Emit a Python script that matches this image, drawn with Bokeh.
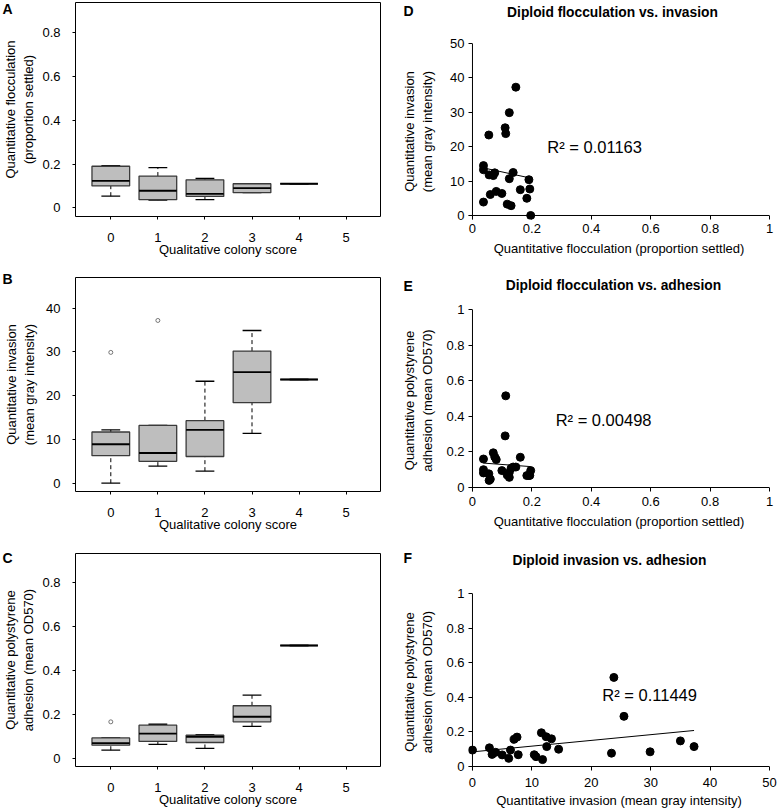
import numpy as np
from bokeh.plotting import figure
from bokeh.models import FixedTicker, Label, Span, Range1d, ColumnDataSource
from bokeh.layouts import column, row
from bokeh.embed import file_html
from bokeh.resources import INLINE

FONT = "Liberation Sans"

# ---------------- data ----------------
scores = [0, 1, 2, 3, 4]
score_ticks = [0, 1, 2, 3, 4, 5]

# A: flocculation box stats per colony score
floc_lo = [0.053, 0.035, 0.037, 0.069, 0.110]
floc_q1 = [0.100, 0.037, 0.052, 0.069, 0.110]
floc_med = [0.123, 0.078, 0.064, 0.090, 0.110]
floc_q3 = [0.190, 0.145, 0.128, 0.110, 0.110]
floc_hi = [0.193, 0.184, 0.134, 0.110, 0.110]
floc_out_x = []
floc_out_y = []

# B: invasion box stats
inv_lo = [0.0, 3.9, 2.75, 11.4, 23.7]
inv_q1 = [6.3, 5.0, 6.1, 18.4, 23.7]
inv_med = [8.9, 6.9, 12.2, 25.4, 23.7]
inv_q3 = [11.7, 13.2, 14.3, 30.2, 23.7]
inv_hi = [12.2, 13.2, 23.3, 34.9, 23.7]
inv_out_x = [0, 1]
inv_out_y = [29.9, 37.2]

# C: adhesion box stats
adh_lo = [0.039, 0.066, 0.047, 0.147, 0.515]
adh_q1 = [0.062, 0.079, 0.074, 0.168, 0.515]
adh_med = [0.071, 0.114, 0.100, 0.191, 0.515]
adh_q3 = [0.095, 0.153, 0.107, 0.241, 0.515]
adh_hi = [0.095, 0.157, 0.110, 0.289, 0.515]
adh_out_x = [0]
adh_out_y = [0.168]

# Diploid strains (D, E, F)
strain_floc = [0.196, 0.130, 0.117, 0.037, 0.183, 0.060, 0.099, 0.080, 0.161, 0.193,
               0.124, 0.190, 0.056, 0.070, 0.075, 0.137, 0.037, 0.037, 0.146, 0.124,
               0.055, 0.110, 0.112, np.nan]
strain_inv = [0.0, 2.85, 3.3, 3.9, 5.0, 6.1, 6.4, 7.0, 7.5, 7.7,
              10.7, 10.4, 11.8, 11.6, 12.4, 12.5, 13.3, 14.5, 37.3, 29.9,
              23.4, 25.5, 23.8, 35.0]
strain_adh = [0.095, 0.108, 0.070, 0.082, 0.067, 0.047, 0.095, 0.157, 0.170, 0.068,
              0.057, 0.068, 0.040, 0.195, 0.172, 0.115, 0.160, 0.100, 0.115, 0.085,
              0.077, 0.290, 0.515, 0.148]

r2_texts = ["R\u00b2 = 0.01163", "R\u00b2 = 0.00498", "R\u00b2 = 0.11449"]

unit_ticks = [0, 0.2, 0.4, 0.6, 0.8, 1.0]
unit_labels = ["0", "0.2", "0.4", "0.6", "0.8", "1"]
box_unit_ticks = [0, 0.2, 0.4, 0.6, 0.8]
inv_ticks = [0, 10, 20, 30, 40]
inv50_ticks = [0, 10, 20, 30, 40, 50]


def style_axes(p, size="13px"):
    p.grid.visible = False
    p.axis.minor_tick_line_color = None
    p.axis.major_label_text_font = FONT
    p.axis.major_label_text_font_size = size
    p.axis.major_label_text_color = "black"
    p.axis.axis_label_text_font = FONT
    p.axis.axis_label_text_font_size = "13px"
    p.axis.axis_label_text_font_style = "normal"
    p.axis.axis_label_text_color = "black"
    p.axis.major_tick_line_color = "black"


def letter(p, text, x, y):
    # placed in the right side panel so that it is not clipped to the frame
    p.add_layout(Label(x=x, y=y, x_units="screen", y_units="screen", text=text,
                       text_font=FONT, text_font_size="14px", text_font_style="bold",
                       text_baseline="top", text_align="left", text_color="black"), "right")


def box_panel(lo, q1, med, q3, hi, out_x, out_y, yr, yticks, ylabels, ylabel, let,
              mbt, mbb, lab_y, y_als):
    p = figure(width=390, height=270, x_range=Range1d(-0.75, 5.73), y_range=Range1d(*yr),
               output_backend="svg", toolbar_location=None, title=None,
               min_border_left=68, min_border_right=9, min_border_top=mbt, min_border_bottom=mbb)
    style_axes(p)
    p.outline_line_color = "black"
    p.outline_line_width = 1
    p.axis.axis_line_color = None
    p.axis.major_tick_in = 0
    p.axis.major_tick_out = 3
    p.xaxis.ticker = FixedTicker(ticks=score_ticks)
    p.yaxis.ticker = FixedTicker(ticks=yticks)
    p.yaxis.major_label_overrides = {t: l for t, l in zip(yticks, ylabels)}
    p.xaxis.axis_label = "Qualitative colony score"
    p.yaxis.axis_label = ylabel
    p.yaxis.major_label_standoff = 12
    p.yaxis.axis_label_standoff = y_als
    p.xaxis.major_label_standoff = 13
    p.xaxis.axis_label_standoff = -3
    src = ColumnDataSource(dict(x=scores, lo=lo, q1=q1, med=med, q3=q3, hi=hi,
                                xl=[s - 0.2 for s in scores], xr=[s + 0.2 for s in scores],
                                bl=[s - 0.4 for s in scores], br=[s + 0.4 for s in scores]))
    p.segment(x0="x", y0="q3", x1="x", y1="hi", source=src, line_color="black",
              line_dash="4 3", line_width=1)
    p.segment(x0="x", y0="lo", x1="x", y1="q1", source=src, line_color="black",
              line_dash="4 3", line_width=1)
    p.segment(x0="xl", y0="hi", x1="xr", y1="hi", source=src, line_color="black", line_width=1.3)
    p.segment(x0="xl", y0="lo", x1="xr", y1="lo", source=src, line_color="black", line_width=1.3)
    p.vbar(x="x", width=0.8, bottom="q1", top="q3", source=src, fill_color="#bebebe",
           line_color="#3a3a3a", line_width=1.3)
    p.segment(x0="bl", y0="med", x1="br", y1="med", source=src, line_color="black", line_width=1.8)
    if out_x:
        p.scatter(out_x, out_y, marker="circle", size=4, fill_color=None, line_color="#555555",
                  line_width=0.8)
    letter(p, let, -378, lab_y)
    return p


def scatter_panel(x, y, xr, yr, xticks, xlabels, yticks, ylabels, xlabel, ylabel, title, let,
                  r2, r2x, r2y, mbt, mbb, lab_y, title_x, title_y, y_als, x_std, x_als):
    p = figure(width=389, height=270, x_range=Range1d(*xr), y_range=Range1d(*yr),
               output_backend="svg", toolbar_location=None, title=None,
               min_border_left=78, min_border_right=10, min_border_top=mbt, min_border_bottom=mbb)
    style_axes(p)
    p.outline_line_color = None
    p.axis.axis_line_color = None
    p.axis.major_tick_in = 4
    p.axis.major_tick_out = 0
    p.xaxis.ticker = FixedTicker(ticks=xticks)
    p.yaxis.ticker = FixedTicker(ticks=yticks)
    p.xaxis.major_label_overrides = {t: l for t, l in zip(xticks, xlabels)}
    p.yaxis.major_label_overrides = {t: l for t, l in zip(yticks, ylabels)}
    p.xaxis.axis_label = xlabel
    p.yaxis.axis_label = ylabel
    p.yaxis.major_label_standoff = 4
    p.yaxis.axis_label_standoff = y_als
    p.xaxis.major_label_standoff = x_std
    p.xaxis.axis_label_standoff = x_als
    p.add_layout(Span(location=0, dimension="width", line_color="black", line_width=1))
    p.add_layout(Span(location=0, dimension="height", line_color="black", line_width=1))
    x = np.asarray(x, dtype=float)
    y = np.asarray(y, dtype=float)
    m = ~(np.isnan(x) | np.isnan(y))
    x, y = x[m], y[m]
    p.scatter(x, y, marker="circle", size=8, color="black")
    slope, icpt = np.polyfit(x, y, 1)
    xs = np.array([x.min(), x.max()])
    p.line(xs, icpt + slope * xs, line_color="black", line_width=1)
    p.add_layout(Label(x=r2x, y=r2y, text=r2, text_font=FONT, text_font_size="16.5px",
                       text_baseline="middle", text_align="left", text_color="black"))
    p.add_layout(Label(x=title_x, y=title_y, x_units="screen", y_units="screen", text=title,
                       text_font=FONT, text_font_size="13.8px", text_font_style="bold",
                       text_baseline="top", text_align="center", text_color="black"), "above")
    letter(p, let, -366, lab_y)
    return p


pA = box_panel(floc_lo, floc_q1, floc_med, floc_q3, floc_hi, floc_out_x, floc_out_y,
               (-0.0398, 0.9385), box_unit_ticks, unit_labels[:5],
               "Quantitative flocculation\n(proportion settled)", "A", 2, 54, 216, 3)
pB = box_panel(inv_lo, inv_q1, inv_med, inv_q3, inv_hi, inv_out_x, inv_out_y,
               (-1.90, 47.02), inv_ticks, [str(t) for t in inv_ticks],
               "Quantitative invasion\n(mean gray intensity)", "B", 7, 49, 221, 6)
pC = box_panel(adh_lo, adh_q1, adh_med, adh_q3, adh_hi, adh_out_x, adh_out_y,
               (-0.035, 0.933), box_unit_ticks, unit_labels[:5],
               "Quantitative polystyrene\nadhesion (mean OD570)", "C", 13, 44, 217, 3)

pD = scatter_panel(strain_floc, strain_inv, (-0.0134, 1.0), (-1.165, 50),
                   unit_ticks, unit_labels, inv50_ticks, [str(t) for t in inv50_ticks],
                   "Quantitative flocculation (proportion settled)",
                   "Quantitative invasion\n(mean gray intensity)",
                   "Diploid flocculation vs. invasion", "D", r2_texts[0], 0.252, 19.9,
                   43, 51, 217, 144, 39, 12, 4, 5)
pE = scatter_panel(strain_floc, strain_adh, (-0.0134, 1.0), (-0.0224, 1.0),
                   unit_ticks, unit_labels, unit_ticks, unit_labels,
                   "Quantitative flocculation (proportion settled)",
                   "Quantitative polystyrene\nadhesion (mean OD570)",
                   "Diploid flocculation vs. adhesion", "E", r2_texts[1], 0.28, 0.377,
                   39, 49, 214, 145, 32, 8, 5, 5)
pF = scatter_panel(strain_inv, strain_adh, (-0.67, 50), (-0.0231, 1.0),
                   inv50_ticks, [str(t) for t in inv50_ticks], unit_ticks, unit_labels,
                   "Quantitative invasion (mean gray intensity)",
                   "Quantitative polystyrene\nadhesion (mean OD570)",
                   "Diploid invasion vs. adhesion", "F", r2_texts[2], 21.86, 0.413,
                   53, 39, 221, 141, 41, 8, 7, 3)

layout = row(column(pA, pB, pC), column(pD, pE, pF))

open("out.html", "w").write(file_html(layout, INLINE))
